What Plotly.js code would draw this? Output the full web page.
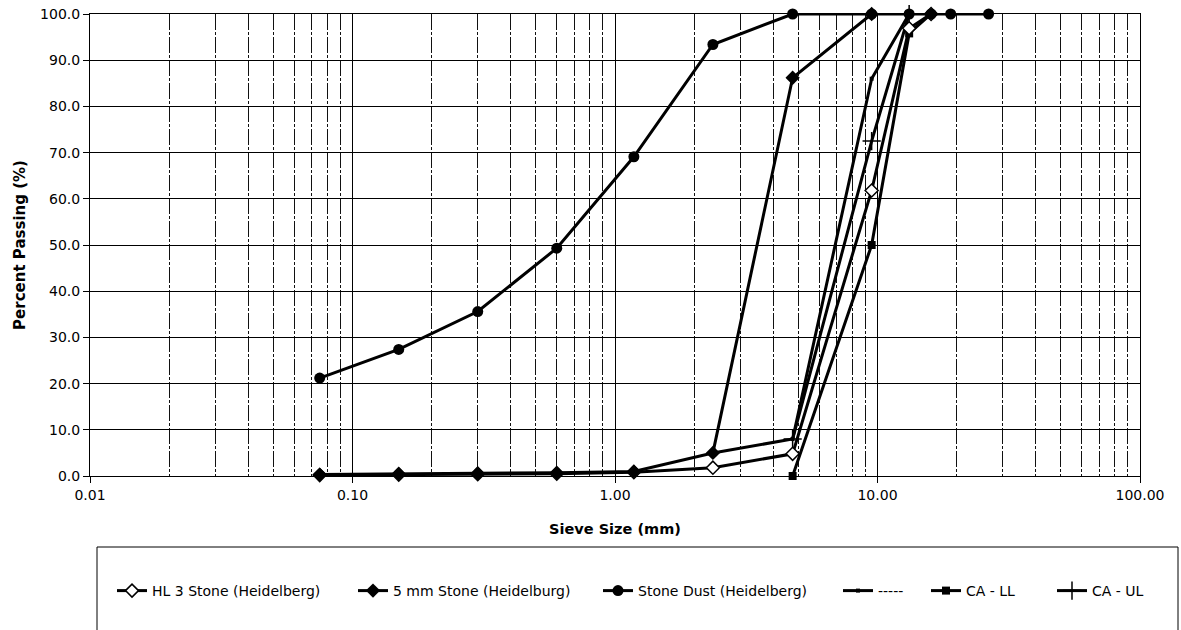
<!DOCTYPE html>
<html>
<head>
<meta charset="utf-8">
<script src="https://cdn.plot.ly/plotly-3.0.1.min.js"></script>
<style>
html,body{margin:0;padding:0;background:#fff;}
#chart{width:1181px;height:630px;}
</style>
</head>
<body>
<div id="chart"></div>
<script>
// ---- data ----
const sieveSizes = [0.075, 0.15, 0.3, 0.6, 1.18, 2.36, 4.75, 9.5, 13.2, 16, 19, 26.5];
const hl3Stone   = [0.2, 0.3, 0.4, 0.5, 0.8, 1.8, 4.8, 61.8, 96.9, 100, null, null];
const fiveMmStone= [0.3, 0.5, 0.6, 0.7, 1.0, 5.0, 86.2, 100, null, null, null, null];
const stoneDust  = [21.2, 27.4, 35.6, 49.3, 69.1, 93.4, 100, 100, 100, 100, 100, 100];
const dashSeries = [null, null, null, null, null, 5.0, 8.0, 86.0, 100, null, null, null];
const caLL       = [null, null, null, null, null, null, 0, 50, 95.8, 100, null, null];
const caUL       = [null, null, null, null, null, null, 8.0, 72.5, 100, null, null, null];

const seriesNames = ['HL 3 Stone (Heidelberg)', '5 mm Stone (Heidelburg)', 'Stone Dust (Heidelberg)', '-----', 'CA - LL', 'CA - UL'];
const xTickVals  = [0.01, 0.1, 1, 10, 100];
const xTickText  = ['0.01', '0.10', '1.00', '10.00', '100.00'];

// ---- layout helpers ----
const W = 1181, H = 630;
const M = {l: 90, r: 41, t: 14, b: 154};
const PW = W - M.l - M.r, PH = H - M.t - M.b;
const px2x = p => (p - M.l) / PW;
const px2y = p => (H - M.b - p) / PH;

const minorVals = [];
[0.01, 0.1, 1, 10].forEach(d => { for (let m = 2; m <= 9; m++) minorVals.push(+(d * m).toPrecision(3)); });

const lineW = 3;
const FONT = 'DejaVu Sans, Liberation Sans, Arial, sans-serif';

const markers = [
  {symbol: 'diamond', size: 10, color: 'white', line: {color: 'black', width: 1.5}},
  {symbol: 'diamond', size: 11, color: 'black', line: {color: 'black', width: 0}},
  {symbol: 'circle', size: 11, color: 'black', line: {color: 'black', width: 0}},
  {symbol: 'square', size: 4, color: 'black', line: {color: 'black', width: 0}},
  {symbol: 'square', size: 8, color: 'black', line: {color: 'black', width: 0}},
  {symbol: 'cross-thin', size: 13, color: 'black', line: {color: 'black', width: 1.5}}
];
const seriesValues = [hl3Stone, fiveMmStone, stoneDust, dashSeries, caLL, caUL];
// legend item origins (px) to reproduce the reference spacing
const legendX = [112, 353, 598, 838, 926, 1052];
const legendNames = ['legend', 'legend2', 'legend3', 'legend4', 'legend5', 'legend6'];

const traces = seriesValues.map((vals, i) => ({
  type: 'scatter', mode: 'lines+markers',
  x: sieveSizes, y: vals, name: seriesNames[i],
  line: {color: 'black', width: lineW},
  marker: markers[i],
  cliponaxis: false,
  legend: legendNames[i]
}));
// draw order: stone dust on top
const drawOrder = [4, 5, 3, 0, 1, 2];
const data = drawOrder.map(i => traces[i]);

const layout = {
  width: W, height: H,
  margin: M,
  paper_bgcolor: 'white', plot_bgcolor: 'white',
  font: {family: FONT, color: 'black', size: 13},
  showlegend: true,
  xaxis: {
    type: 'log', range: [-2, 2],
    tickvals: xTickVals, ticktext: xTickText,
    ticks: 'outside', ticklen: 6, tickcolor: 'black', tickwidth: 1,
    showgrid: true, gridcolor: 'black', gridwidth: 1,
    showline: true, linecolor: 'black', linewidth: 1, mirror: true,
    zeroline: false,
    tickfont: {family: FONT, size: 14, color: 'black'},
    title: {text: 'Sieve Size (mm)', font: {family: FONT, size: 14.5, color: 'black', weight: 'bold'}, standoff: 22},
    minor: {tickvals: minorVals, showgrid: true, gridcolor: '#111', gridwidth: 1, griddash: '16px,2px,3px,2px', ticks: ''}
  },
  yaxis: {
    range: [0, 100], dtick: 10, tick0: 0, tickformat: '.1f',
    ticks: 'outside', ticklen: 6, tickcolor: 'black', tickwidth: 1,
    showgrid: true, gridcolor: 'black', gridwidth: 1,
    showline: true, linecolor: 'black', linewidth: 1, mirror: true,
    zeroline: false,
    tickfont: {family: FONT, size: 14, color: 'black'},
    title: {text: 'Percent Passing (%)', font: {family: FONT, size: 15, color: 'black', weight: 'bold'}, standoff: 10}
  },
  shapes: [{
    type: 'rect', xref: 'paper', yref: 'paper',
    x0: px2x(97), x1: px2x(1178), y0: px2y(660), y1: px2y(547),
    line: {color: 'black', width: 1}, fillcolor: 'rgba(0,0,0,0)', layer: 'below'
  }]
};
legendNames.forEach((ln, i) => {
  layout[ln] = {
    orientation: 'h', x: px2x(legendX[i]), xanchor: 'left',
    y: px2y(591), yanchor: 'middle',
    bgcolor: 'rgba(0,0,0,0)', borderwidth: 0,
    font: {family: FONT, size: 14, color: 'black'},
    itemwidth: 30
  };
});

Plotly.newPlot('chart', data, layout, {displayModeBar: false, staticPlot: true});
</script>
</body>
</html>
